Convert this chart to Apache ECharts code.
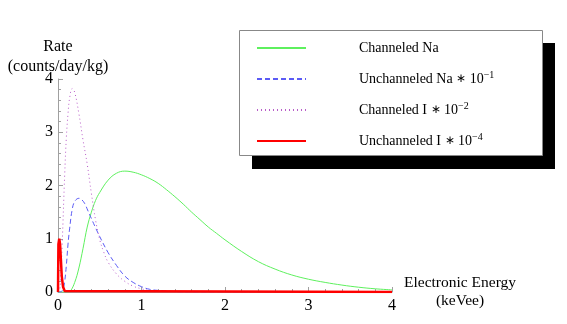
<!DOCTYPE html>
<html>
<head>
<meta charset="utf-8">
<script src="https://cdn.jsdelivr.net/npm/echarts@6/dist/echarts.min.js"></script>
<style>
  html, body { margin: 0; padding: 0; background: #fff; }
  #chart { width: 567px; height: 324px; }
</style>
</head>
<body>
<div id="chart"></div>
<script>
// values, [energy (keVee), rate]
var channeledNa = [
  [0, 0], [0.12, 0], [0.15, 0.02], [0.2, 0.18], [0.25, 0.45], [0.3, 0.82], [0.35, 1.22],
  [0.4, 1.5], [0.45, 1.72], [0.5, 1.87], [0.6, 2.1], [0.7, 2.23], [0.8, 2.27], [0.9, 2.25],
  [1.0, 2.2], [1.1, 2.13], [1.2, 2.04], [1.3, 1.92], [1.4, 1.79], [1.5, 1.65], [1.6, 1.5],
  [1.7, 1.36], [1.8, 1.22], [1.9, 1.1], [2.0, 0.98], [2.2, 0.76], [2.4, 0.57], [2.6, 0.43],
  [2.8, 0.32], [3.0, 0.24], [3.2, 0.18], [3.4, 0.13], [3.6, 0.09], [3.8, 0.06], [4.0, 0.04]
];
var unchanneledNa = [
  [0, 0], [0.04, 0.01], [0.06, 0.05], [0.08, 0.2], [0.1, 0.5], [0.12, 0.9], [0.14, 1.2],
  [0.17, 1.55], [0.2, 1.7], [0.25, 1.76], [0.28, 1.74], [0.32, 1.66], [0.36, 1.52],
  [0.4, 1.38], [0.44, 1.24], [0.5, 1.04], [0.6, 0.74], [0.7, 0.5], [0.8, 0.3], [0.9, 0.18],
  [1.0, 0.1], [1.1, 0.05], [1.2, 0.03], [1.3, 0.015], [1.4, 0.007], [1.5, 0], [4.0, 0]
];
var channeledI = [
  [0, 0], [0.02, 0.05], [0.03, 0.2], [0.05, 0.9], [0.08, 2.2], [0.1, 2.9], [0.12, 3.35],
  [0.14, 3.65], [0.17, 3.82], [0.2, 3.75], [0.25, 3.35], [0.3, 2.85], [0.35, 2.4],
  [0.4, 1.85], [0.45, 1.35], [0.5, 0.98], [0.55, 0.74], [0.6, 0.56], [0.7, 0.34], [0.8, 0.2],
  [0.9, 0.11], [1.0, 0.06], [1.1, 0.03], [1.2, 0.015], [1.3, 0.005], [1.5, 0], [4.0, 0]
];
var unchanneledI = [
  [0, 0], [0.005, 0.9], [0.015, 1.0], [0.025, 0.9], [0.035, 0.6], [0.045, 0.3],
  [0.06, 0.1], [0.08, 0.02], [0.1, 0], [4.0, 0]
];
var seriesNames = ['Channeled Na', 'Unchanneled Na', 'Channeled I', 'Unchanneled I'];
var seriesScale = ['', '−1', '−2', '−4'];

var axisGray = '#a0a0a0';
var font = 'Liberation Serif';

var chart = echarts.init(document.getElementById('chart'));

function lineSeries(name, data, color, width, type, smooth) {
  return {
    name: name,
    type: 'line',
    data: data,
    symbol: 'none',
    smooth: smooth,
    lineStyle: { color: color, width: width, type: type },
    itemStyle: { color: color }
  };
}

var option = {
  animation: false,
  grid: { left: 58, right: 175, top: 79, bottom: 32 },
  // legend frame with its hard black drop shadow
  graphic: [
    {
      type: 'rect', z: 1, silent: true,
      shape: { x: 252, y: 43, width: 303, height: 126 },
      style: { fill: '#000' }
    },
    {
      type: 'rect', z: 2, silent: true,
      shape: { x: 239.5, y: 30.5, width: 303, height: 125 },
      style: { fill: '#fff', stroke: '#888', lineWidth: 1 }
    }
  ],
  legend: {
    z: 10,
    orient: 'vertical',
    left: 246,
    top: 40,
    padding: [0, 0, 0, 10],
    itemWidth: 49,
    itemHeight: 14,
    itemGap: 14,
    itemStyle: { opacity: 0 },
    data: seriesNames,
    formatter: function (name) {
      var i = seriesNames.indexOf(name);
      var pad = '{sp|}';
      if (!seriesScale[i]) return pad + name;
      return pad + name + ' {ast|∗} 10{sup|' + seriesScale[i] + '}';
    },
    textStyle: {
      fontFamily: font,
      fontSize: 14,
      lineHeight: 16,
      color: '#000',
      rich: {
        sp: { width: 48 },
        ast: { fontFamily: font, fontSize: 12, lineHeight: 16 },
        sup: { fontFamily: font, fontSize: 10, lineHeight: 16, verticalAlign: 'bottom', padding: [0, 0, 7, 0] }
      }
    }
  },
  xAxis: {
    type: 'value',
    min: 0,
    max: 4,
    interval: 1,
    name: 'Electronic Energy\n(keVee)',
    nameLocation: 'end',
    nameGap: 68,
    nameTextStyle: { fontFamily: font, fontSize: 15.5, color: '#000', align: 'center', lineHeight: 18 },
    axisLine: { lineStyle: { color: axisGray } },
    axisTick: { inside: true, length: 5, lineStyle: { color: axisGray } },
    minorTick: { show: true, splitNumber: 5, length: 3, lineStyle: { color: axisGray } },
    axisLabel: { fontFamily: font, fontSize: 16, color: '#000', margin: 6 },
    splitLine: { show: false }
  },
  yAxis: {
    type: 'value',
    min: 0,
    max: 4,
    interval: 1,
    name: 'Rate\n(counts/day/kg)',
    nameLocation: 'end',
    nameGap: 2,
    nameMoveOverlap: false,
    nameTextStyle: { fontFamily: font, fontSize: 16, color: '#000', align: 'center', lineHeight: 20 },
    axisLine: { show: true, lineStyle: { color: axisGray } },
    axisTick: { show: true, inside: true, length: 5, lineStyle: { color: axisGray } },
    minorTick: { show: true, splitNumber: 5, length: 3, lineStyle: { color: axisGray } },
    axisLabel: { fontFamily: font, fontSize: 16, color: '#000', margin: 5 },
    splitLine: { show: false }
  },
  series: [
    lineSeries(seriesNames[0], channeledNa, '#5ef05e', 1, 'solid', 0.4),
    lineSeries(seriesNames[1], unchanneledNa, '#5b5bf5', 1, [5, 3], 0.4),
    lineSeries(seriesNames[2], channeledI, '#b85cc8', 1, [1, 3], 0.4),
    lineSeries(seriesNames[3], unchanneledI, '#ff0000', 2.5, 'solid', false)
  ]
};

chart.setOption(option);
</script>
</body>
</html>
